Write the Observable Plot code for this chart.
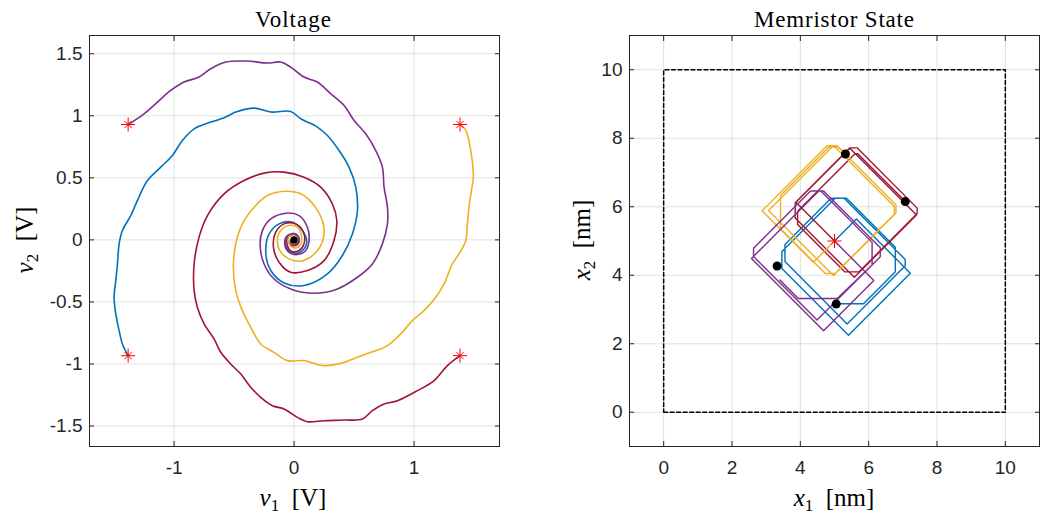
<!DOCTYPE html>
<html><head><meta charset="utf-8">
<script src="https://cdn.jsdelivr.net/npm/d3@7"></script>
<script src="https://cdn.jsdelivr.net/npm/@observablehq/plot@0.6"></script>
<style>
body{margin:0;background:#fff;}
#wrap{position:relative;width:1046px;height:514px;overflow:hidden;background:#fff;}
#wrap svg{position:absolute;top:0;overflow:visible;}
</style></head><body><div id="wrap"></div>
<script>
// ---------- Left panel: voltage trajectories [v1, v2] ----------
const voltPurple = [[-1.383,0.930],[-1.25,1.016],[-1.139,1.110],[-1.028,1.204],[-0.917,1.272],[-0.792,1.312],[-0.694,1.379],[-0.569,1.433],[-0.389,1.441],[-0.222,1.425],[-0.111,1.433],[-0.028,1.392],[0.083,1.312],[0.194,1.272],[0.306,1.177],[0.417,1.083],[0.5,0.962],[0.597,0.855],[0.681,0.720],[0.736,0.586],[0.75,0.425],[0.778,0.263],[0.778,0.129],[0.736,-0.032],[0.653,-0.194],[0.528,-0.301],[0.361,-0.395],[0.167,-0.430],[-0.028,-0.395],[-0.167,-0.315],[-0.25,-0.194],[-0.283,-0.046],[-0.264,0.075],[-0.194,0.169],[-0.069,0.215],[0.042,0.196],[0.111,0.102],[0.125,-0.005],[0.097,-0.086],[0.028,-0.118],[-0.042,-0.1],[-0.078,-0.03],[-0.056,0.035],[0.006,0.048],[0.042,0.008],[0.028,-0.038],[-0.014,-0.046],[-0.033,-0.011],[-0.006,0.016],[0.008,0.0]];
const voltBlue = [[-1.383,-0.933],[-1.431,-0.839],[-1.458,-0.731],[-1.486,-0.597],[-1.5,-0.462],[-1.486,-0.328],[-1.472,-0.194],[-1.458,-0.032],[-1.431,0.075],[-1.361,0.196],[-1.306,0.317],[-1.222,0.478],[-1.111,0.586],[-1.014,0.680],[-0.931,0.801],[-0.833,0.895],[-0.694,0.949],[-0.583,0.984],[-0.486,1.030],[-0.333,1.062],[-0.194,1.030],[-0.028,1.035],[0.056,0.976],[0.194,0.909],[0.278,0.841],[0.375,0.720],[0.458,0.586],[0.514,0.425],[0.528,0.237],[0.486,0.048],[0.403,-0.126],[0.278,-0.274],[0.083,-0.368],[-0.083,-0.347],[-0.194,-0.247],[-0.236,-0.099],[-0.208,0.048],[-0.125,0.129],[-0.014,0.142],[0.069,0.075],[0.106,-0.019],[0.069,-0.086],[0.0,-0.108],[-0.061,-0.065],[-0.069,0.0],[-0.033,0.043],[0.022,0.043],[0.042,0.0],[0.014,-0.032],[-0.022,-0.02],[-0.017,0.011],[0.006,0.005]];
const voltRed = [[1.383,-0.933],[1.278,-1.013],[1.167,-1.134],[1.028,-1.215],[0.861,-1.296],[0.75,-1.323],[0.653,-1.376],[0.569,-1.444],[0.417,-1.452],[0.25,-1.457],[0.111,-1.465],[0.028,-1.430],[-0.083,-1.363],[-0.181,-1.336],[-0.278,-1.269],[-0.361,-1.188],[-0.444,-1.081],[-0.528,-1.0],[-0.611,-0.906],[-0.667,-0.798],[-0.75,-0.677],[-0.806,-0.543],[-0.833,-0.409],[-0.833,-0.194],[-0.792,0.022],[-0.722,0.196],[-0.583,0.371],[-0.417,0.478],[-0.25,0.538],[-0.083,0.546],[0.083,0.505],[0.222,0.425],[0.319,0.290],[0.356,0.156],[0.333,-0.005],[0.25,-0.167],[0.111,-0.247],[-0.028,-0.261],[-0.125,-0.180],[-0.172,-0.059],[-0.153,0.062],[-0.083,0.129],[0.014,0.129],[0.078,0.062],[0.083,-0.032],[0.042,-0.086],[-0.022,-0.091],[-0.056,-0.046],[-0.05,0.016],[0.0,0.043],[0.033,0.016],[0.028,-0.027],[-0.011,-0.032],[-0.022,0.0],[0.003,0.011],[0.006,-0.003]];
const voltYellow = [[1.383,0.930],[1.431,0.882],[1.472,0.720],[1.494,0.505],[1.478,0.398],[1.458,0.263],[1.444,0.129],[1.431,-0.005],[1.375,-0.113],[1.319,-0.194],[1.25,-0.355],[1.181,-0.462],[1.083,-0.570],[0.986,-0.651],[0.875,-0.772],[0.778,-0.852],[0.722,-0.879],[0.639,-0.906],[0.528,-0.946],[0.417,-0.987],[0.25,-1.013],[0.139,-0.987],[0.083,-0.973],[-0.056,-0.973],[-0.167,-0.906],[-0.278,-0.839],[-0.361,-0.704],[-0.431,-0.570],[-0.486,-0.409],[-0.506,-0.220],[-0.486,-0.032],[-0.431,0.129],[-0.333,0.263],[-0.222,0.358],[-0.069,0.392],[0.056,0.371],[0.167,0.277],[0.236,0.156],[0.25,0.048],[0.222,-0.046],[0.153,-0.126],[0.05,-0.172],[-0.042,-0.153],[-0.111,-0.099],[-0.139,-0.005],[-0.111,0.075],[-0.042,0.116],[0.028,0.102],[0.061,0.035],[0.056,-0.032],[0.014,-0.065],[-0.033,-0.046],[-0.05,0.0],[-0.028,0.038],[0.014,0.038],[0.028,0.0],[0.006,-0.027],[-0.017,-0.011],[-0.006,0.011],[0.003,0.0]];
const voltStartV1 = [-1.383, 1.383, -1.383, 1.383];
const voltStartV2 = [0.930, 0.930, -0.933, -0.933];
const voltEquilibrium = [[0, 0]];
const voltXTicks = [-1, 0, 1];
const voltYTicks = [-1.5, -1, -0.5, 0, 0.5, 1, 1.5];

// ---------- Right panel: memristor state trajectories [x1, x2] ----------
const memBlue = [[5.00,5.00],[5.64,5.64],[7.22,4.06],[5.41,2.25],[3.46,4.20],[3.46,4.69],[5.02,6.25],[5.28,6.25],[7.07,4.46],[7.07,4.28],[5.37,2.58],[3.55,4.40],[3.55,4.90],[4.90,6.25],[5.35,6.25],[6.78,4.82],[6.78,4.10],[5.85,3.17],[5.05,3.17]];
const memRed = [[5.00,5.00],[3.87,6.13],[5.45,7.71],[7.40,5.76],[5.58,3.94],[3.85,5.67],[3.85,6.12],[5.45,7.72],[5.66,7.72],[7.42,5.96],[7.42,5.80],[5.72,4.10],[5.30,4.10],[3.92,5.48],[3.92,5.87],[5.60,7.55],[5.68,7.55],[7.07,6.16]];
const memYellow = [[5.00,5.00],[4.38,4.38],[2.88,5.88],[4.78,7.78],[5.07,7.78],[6.80,6.05],[6.80,5.82],[4.97,3.99],[3.07,5.89],[4.92,7.74],[5.02,7.74],[6.75,6.01],[6.75,5.78],[5.02,4.05],[4.73,4.05],[3.42,5.36],[3.42,6.33],[4.83,7.74],[5.10,7.76],[5.32,7.54]];
const memPurple = [[5.00,5.00],[6.15,3.85],[4.68,2.38],[2.57,4.49],[4.54,6.46],[4.68,6.46],[6.34,4.80],[6.34,4.54],[4.49,2.69],[2.63,4.55],[2.63,4.79],[4.30,6.46],[4.60,6.46],[6.10,4.96],[6.10,4.30],[5.08,3.32],[3.94,3.32],[3.40,3.86]];
const memStart = [[5, 5]];
const memEnd = [[5.32,7.54],[7.07,6.15],[3.32,4.27],[5.05,3.16]];
const memBoundsX = [0, 10, 10, 0, 0];
const memBoundsY = [0, 0, 10, 10, 0];
const memTicks = [0, 2, 4, 6, 8, 10];

// ---------- styling ----------
const C = {blue: "#0072BD", red: "#A2142F", yellow: "#EDB120", purple: "#7E2F8E"};
const axisColor = "#262626";
const serif = "'Liberation Serif', 'DejaVu Serif', serif";
const sans = "'Liberation Sans', Arial, sans-serif";
const fmt = d => String(d);
const W = 523, H = 514;

function frameMarks(xTicks, yTicks) {
  return [
    Plot.gridX(xTicks, {stroke: "#000", strokeOpacity: 0.12, strokeWidth: 1}),
    Plot.gridY(yTicks, {stroke: "#000", strokeOpacity: 0.12, strokeWidth: 1})
  ];
}
function axisMarks(xTicks, yTicks) {
  return [
    Plot.frame({stroke: axisColor, strokeWidth: 1}),
    Plot.axisX(xTicks, {anchor: "bottom", tickSize: 0, tickPadding: 14, tickFormat: fmt, fill: axisColor, fontSize: 19, label: null}),
    Plot.axisX(xTicks, {anchor: "bottom", tickSize: 5, dy: -5, fill: "none", stroke: axisColor, label: null}),
    Plot.axisX(xTicks, {anchor: "top", tickSize: 5, dy: 5, fill: "none", stroke: axisColor, label: null}),
    Plot.axisY(yTicks, {anchor: "left", tickSize: 0, tickPadding: 7, tickFormat: fmt, fill: axisColor, fontSize: 19, label: null}),
    Plot.axisY(yTicks, {anchor: "left", tickSize: 5, dx: 5, fill: "none", stroke: axisColor, label: null}),
    Plot.axisY(yTicks, {anchor: "right", tickSize: 5, dx: -5, fill: "none", stroke: axisColor, label: null})
  ];
}
function starMarks(data, x, y) {
  return [
    Plot.dot(data, {x, y, symbol: "plus", r: 4.6, stroke: "#FF0000", strokeWidth: 1}),
    Plot.dot(data, {x, y, symbol: "times", r: 3.3, stroke: "#FF0000", strokeWidth: 1})
  ];
}
const px = d => d[0], py = d => d[1];

const left = Plot.plot({
  width: W, height: H, marginTop: 35, marginBottom: 68, marginLeft: 89, marginRight: 24,
  x: {domain: [-1.705, 1.712], label: null},
  y: {domain: [-1.665, 1.647], label: null},
  style: {fontFamily: sans, fontSize: "19px", color: axisColor, background: "transparent"},
  marks: [
    ...frameMarks(voltXTicks, voltYTicks),
    Plot.line(voltBlue, {x: px, y: py, stroke: C.blue, strokeWidth: 1.6, curve: "catmull-rom"}),
    Plot.line(voltRed, {x: px, y: py, stroke: C.red, strokeWidth: 1.6, curve: "catmull-rom"}),
    Plot.line(voltYellow, {x: px, y: py, stroke: C.yellow, strokeWidth: 1.6, curve: "catmull-rom"}),
    Plot.line(voltPurple, {x: px, y: py, stroke: C.purple, strokeWidth: 1.6, curve: "catmull-rom"}),
    ...starMarks(voltStartV1.map((v, i) => [v, voltStartV2[i]]), px, py),
    Plot.dot(voltEquilibrium, {x: px, y: py, r: 3.6, fill: "#000", stroke: "none"}),
    ...axisMarks(voltXTicks, voltYTicks)
  ]
});

const right = Plot.plot({
  width: W, height: H, marginTop: 35, marginBottom: 68, marginLeft: 106, marginRight: 7,
  x: {domain: [-1, 11], label: null},
  y: {domain: [-1, 11], label: null},
  style: {fontFamily: sans, fontSize: "19px", color: axisColor, background: "transparent"},
  marks: [
    ...frameMarks(memTicks, memTicks),
    Plot.line(memBoundsX.map((v, i) => [v, memBoundsY[i]]), {x: px, y: py, stroke: "#000", strokeWidth: 1.5, strokeDasharray: "4,2.5"}),
    Plot.line(memBlue, {x: px, y: py, stroke: C.blue, strokeWidth: 1.4}),
    Plot.line(memRed, {x: px, y: py, stroke: C.red, strokeWidth: 1.4}),
    Plot.line(memYellow, {x: px, y: py, stroke: C.yellow, strokeWidth: 1.4}),
    Plot.line(memPurple, {x: px, y: py, stroke: C.purple, strokeWidth: 1.4}),
    ...starMarks(memStart, px, py),
    Plot.dot(memEnd, {x: px, y: py, r: 4.5, fill: "#000", stroke: "none"}),
    ...axisMarks(memTicks, memTicks)
  ]
});

const wrap = document.getElementById("wrap");
left.style.left = "0px";
right.style.left = W + "px";
wrap.appendChild(left);
wrap.appendChild(right);

function addTitle(svg, cx, text, len) {
  d3.select(svg).append("text")
    .attr("x", cx).attr("y", 27)
    .attr("text-anchor", "middle")
    .attr("font-family", serif).attr("font-size", 23).attr("fill", "#000")
    .attr("textLength", len).attr("lengthAdjust", "spacing")
    .text(text);
}
function addVarLabel(sel, sym, sub, unit) {
  sel.attr("font-family", serif).attr("font-size", 25).attr("fill", "#000").attr("text-anchor", "middle");
  sel.append("tspan").attr("font-style", "italic").text(sym);
  sel.append("tspan").attr("font-size", 17).attr("dy", "5").text(sub);
  sel.append("tspan").attr("dy", "-5").text("\u2002" + unit);
}
addTitle(left, 293, "Voltage", 76);
addTitle(right, 311, "Memristor State", 160);
addVarLabel(d3.select(left).append("text").attr("x", 293).attr("y", 506), "v", "1", "[V]");
addVarLabel(d3.select(left).append("text").attr("transform", "translate(33,240) rotate(-90)"), "v", "2", "[V]");
addVarLabel(d3.select(right).append("text").attr("x", 311).attr("y", 506), "x", "1", "[nm]");
addVarLabel(d3.select(right).append("text").attr("transform", "translate(67,240) rotate(-90)"), "x", "2", "[nm]");
</script></body></html>
